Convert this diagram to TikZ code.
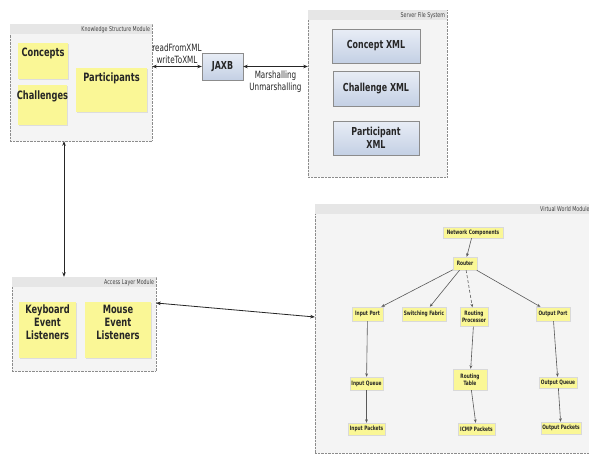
\documentclass[tikz,border=0pt]{standalone}
\usepackage{fontspec}
\setmainfont{DejaVu Sans}[FakeStretch=0.72]
\usetikzlibrary{arrows.meta,shadows}
\definecolor{sticky}{RGB}{250,247,150}
\definecolor{modfill}{RGB}{244,244,244}
\definecolor{modhead}{RGB}{230,230,230}
\definecolor{modline}{RGB}{140,140,140}
\definecolor{xmltop}{RGB}{232,237,246}
\definecolor{xmlbot}{RGB}{196,208,228}
\tikzset{
  module/.style={draw=modline, densely dotted, fill=modfill, inner sep=0pt},
  modtitle/.style={font=\fontsize{6.6}{7}\selectfont, text=black!75, anchor=east, inner sep=1pt},
  stickybox/.style={fill=sticky, inner sep=0pt, drop shadow={shadow xshift=1pt, shadow yshift=-1pt, fill=black!22}},
  stickytext/.style={font=\fontsize{11.5}{13}\selectfont\bfseries, align=center, inner sep=0pt, text=black!85},
  xmlbox/.style={draw=black!45, top color=xmltop, bottom color=xmlbot, inner sep=1pt, align=center,
     font=\fontsize{11}{12.5}\selectfont\bfseries, text=black!85,
     drop shadow={shadow xshift=1pt, shadow yshift=-1.2pt, fill=black!55}},
  vwbox/.style={fill=sticky, draw=black!15, inner sep=1pt, align=center,
     font=\fontsize{6}{6.8}\selectfont\bfseries, text=black!85,
     drop shadow={shadow xshift=0.8pt, shadow yshift=-0.8pt, fill=black!18}},
  biarrow/.style={{Stealth[length=4.5pt,width=3.5pt]}-{Stealth[length=4.5pt,width=3.5pt]}, black!85, line width=0.8pt},
  vwarrow/.style={-{Stealth[length=3.5pt,width=2.8pt]}, black!65, line width=0.6pt},
  elabel/.style={font=\fontsize{10}{12}\selectfont, text=black!85, align=center, inner sep=1pt}
}
\begin{document}
\begin{tikzpicture}[x=1pt,y=-1pt]
\useasboundingbox (0,0) rectangle (589,455);
\fill[white] (0,0) rectangle (589,455);
\begin{scope}
\clip (0,0) rectangle (589,455);
% ---------- modules ----------
\node[module, minimum width=142, minimum height=117] (ksm) at (81,82.5) {};
\fill[modhead] ([shift={(0.5pt,-0.5pt)}]ksm.north west) rectangle ([shift={(-0.5pt,-10pt)}]ksm.north east);
\node[modtitle] (ksmt) at ([shift={(-1pt,-5.5pt)}]ksm.north east) {Knowledge Structure Module};

\node[module, minimum width=139, minimum height=167] (server) at (377.5,93.5) {};
\fill[modhead] ([shift={(0.5pt,-0.5pt)}]server.north west) rectangle ([shift={(-0.5pt,-10pt)}]server.north east);
\node[modtitle] (servert) at ([shift={(-1pt,-5.5pt)}]server.north east) {Server File System};

\node[module, minimum width=144, minimum height=94] (alm) at (84,324) {};
\fill[modhead] ([shift={(0.5pt,-0.5pt)}]alm.north west) rectangle ([shift={(-0.5pt,-10pt)}]alm.north east);
\node[modtitle] (almt) at ([shift={(-1pt,-5.5pt)}]alm.north east) {Access Layer Module};

\node[module, minimum width=277, minimum height=249] (vwm) at (453.5,328.5) {};
\fill[modhead] ([shift={(0.5pt,-0.5pt)}]vwm.north west) rectangle ([shift={(-0.5pt,-10pt)}]vwm.north east);
\node[modtitle, anchor=west] (vwmt) at (539,209.5) {Virtual World Module};
\end{scope}

% ---------- knowledge structure ----------
\node[stickybox, minimum width=50, minimum height=36] (concepts) at (43,61) {};
\node[stickytext, anchor=north] (conceptst) at ([yshift=-5pt]concepts.north) {Concepts};
\node[stickybox, minimum width=49, minimum height=40] (challenges) at (42.5,105) {};
\node[stickytext, anchor=north] (challengest) at ([yshift=-6pt]challenges.north) {Challenges};
\node[stickybox, minimum width=71, minimum height=44] (participants) at (111.5,90) {};
\node[stickytext, anchor=north] (participantst) at ([yshift=-5pt]participants.north) {Participants};

% ---------- JAXB and server ----------
\node[xmlbox, minimum width=41, minimum height=27] (jaxb) at (222.5,66.5) {JAXB};
\node[xmlbox, minimum width=88, minimum height=34] (cxml) at (376,46) {Concept XML};
\node[xmlbox, minimum width=86, minimum height=35] (chxml) at (376,88.5) {Challenge XML};
\node[xmlbox, minimum width=86, minimum height=34] (pxml) at (376,138) {Participant\\XML};

% ---------- access layer ----------
\node[stickybox, minimum width=57, minimum height=56] (keyboard) at (47.5,330) {};
\node[stickytext, anchor=north] (keyboardt) at ([yshift=-3pt]keyboard.north) {Keyboard\\Event\\Listeners};
\node[stickybox, minimum width=66, minimum height=56] (mouse) at (118,330) {};
\node[stickytext, anchor=north] (mouset) at ([yshift=-3pt]mouse.north) {Mouse\\Event\\Listeners};

% ---------- virtual world ----------
\node[vwbox, minimum width=60, minimum height=11] (netc) at (473,232.5) {Network Components};
\node[vwbox, minimum width=24, minimum height=13] (router) at (465,263.5) {Router};
\node[vwbox, minimum width=31, minimum height=14] (inport) at (367.5,314) {Input Port};
\node[vwbox, minimum width=44, minimum height=14] (switch) at (424,314) {Switching Fabric};
\node[vwbox, minimum width=28, minimum height=19] (rproc) at (474,317) {Routing\\Processor};
\node[vwbox, minimum width=34, minimum height=14] (outport) at (553,314) {Output Port};
\node[vwbox, minimum width=33, minimum height=13] (inqueue) at (366.5,383.5) {Input Queue};
\node[vwbox, minimum width=37, minimum height=12] (inpackets) at (366.5,429) {Input Packets};
\node[vwbox, minimum width=34, minimum height=21] (rtable) at (470,379.5) {Routing\\Table};
\node[vwbox, minimum width=37, minimum height=12] (icmp) at (476.5,429) {ICMP Packets};
\node[vwbox, minimum width=38, minimum height=11] (outqueue) at (558,382.5) {Output Queue};
\node[vwbox, minimum width=38, minimum height=12] (outpackets) at (561,428) {Output Packets};

\draw[vwarrow] (netc) -- (router);
\draw[vwarrow] (router) -- (inport);
\draw[vwarrow] (router) -- (switch);
\draw[vwarrow, densely dashed] (router) -- (rproc);
\draw[vwarrow] (router) -- (outport);
\draw[vwarrow] (inport) -- (inqueue);
\draw[vwarrow] (inqueue) -- (inpackets);
\draw[vwarrow] (rproc) -- (rtable);
\draw[vwarrow] (rtable) -- (icmp);
\draw[vwarrow] (outport) -- (outqueue);
\draw[vwarrow] (outqueue) -- (outpackets);

% ---------- inter-module connectors ----------
\draw[biarrow] (ksm.east |- jaxb.west) -- node[elabel, above=1pt] {readFromXML\\writeToXML} (jaxb.west);
\draw[biarrow] (jaxb.east) -- node[elabel, below=3pt] {Marshalling\\Unmarshalling} (jaxb.east -| server.west);
\draw[biarrow] ([xshift=-17pt]ksm.south) -- ([xshift=-20pt]alm.north);
\draw[biarrow] ([yshift=21pt]alm.east) -- ([yshift=11.5pt]vwm.west);
\end{tikzpicture}
\end{document}
